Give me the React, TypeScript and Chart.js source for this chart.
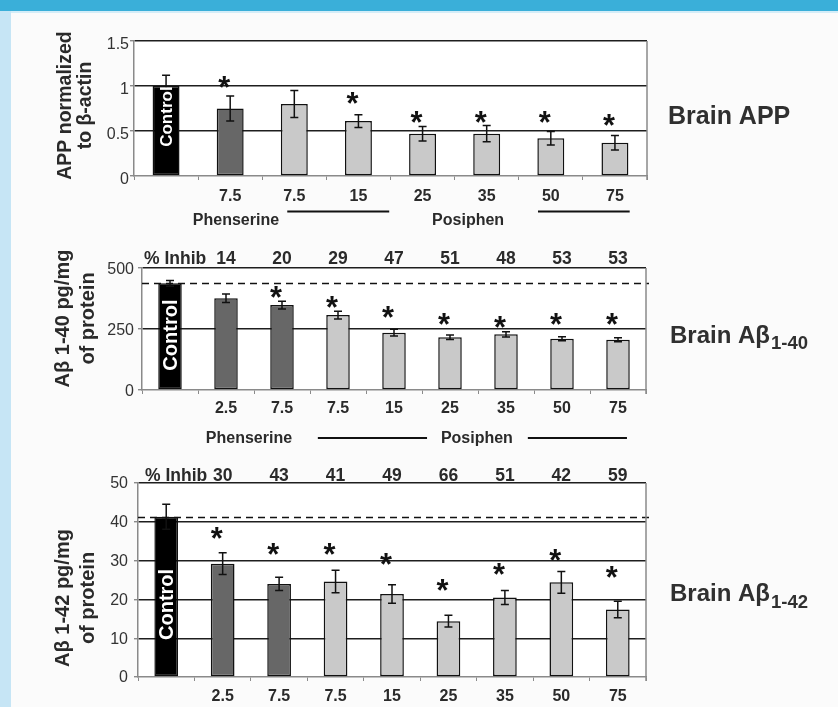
import React, { useEffect, useRef } from 'react';
import { Chart, registerables } from 'chart.js';

Chart.register(...registerables);

const FONT = '"Liberation Sans", Arial, Helvetica, sans-serif';
const TEXT = '#2a2a2a';

// ---------- Panel 1: Brain APP ----------
const appLabels = ['', '7.5', '7.5', '15', '25', '35', '50', '75'];
const appGroups = ['control', 'phenserine', 'posiphen', 'posiphen', 'posiphen', 'posiphen', 'posiphen', 'posiphen'];
const appValues = [1.0, 0.75, 0.8, 0.61, 0.47, 0.47, 0.42, 0.37];
const appErrors = [0.12, 0.14, 0.15, 0.07, 0.08, 0.09, 0.075, 0.08];
const appStars: (number | null)[] = [null, 1.04, null, 0.87, 0.66, 0.66, 0.66, 0.62];

// ---------- Panel 2: Brain Abeta 1-40 ----------
const ab40Labels = ['', '2.5', '7.5', '7.5', '15', '25', '35', '50', '75'];
const ab40Groups = ['control', 'phenserine', 'phenserine', 'posiphen', 'posiphen', 'posiphen', 'posiphen', 'posiphen', 'posiphen'];
const ab40Values = [437, 376, 348, 307, 235, 216, 228, 210, 206];
const ab40Errors = [12, 17, 16, 16, 14, 9, 11, 8, 8];
const ab40Stars: (number | null)[] = [null, null, 403, 362, 321, 291, 280, 291, 291];
const ab40Inhib = ['', '14', '20', '29', '47', '51', '48', '53', '53'];

// ---------- Panel 3: Brain Abeta 1-42 ----------
const ab42Labels = ['', '2.5', '7.5', '7.5', '15', '25', '35', '50', '75'];
const ab42Groups = ['control', 'phenserine', 'phenserine', 'posiphen', 'posiphen', 'posiphen', 'posiphen', 'posiphen', 'posiphen'];
const ab42Values = [41.3, 29.2, 24.0, 24.6, 21.4, 14.4, 20.5, 24.4, 17.4];
const ab42Errors = [3.2, 2.8, 1.7, 2.9, 2.4, 1.5, 1.8, 2.8, 2.1];
const ab42Stars: (number | null)[] = [null, 37.2, 32.9, 32.9, 30.5, 23.6, 27.9, 31.4, 27.0];
const ab42Inhib = ['', '30', '43', '41', '49', '66', '51', '42', '59'];

const COLORS: Record<string, string> = {
  control: '#000000',
  phenserine: '#676767',
  posiphen: '#c9c9c9',
};

type GroupItem = { kind: 'text'; text: string; at: number } | { kind: 'line'; from: number; to: number };

type Panel = {
  id: string;
  canvas: { x: number; y: number; w: number; h: number };
  area: { l: number; r: number; t: number; b: number };
  labels: string[];
  groups: string[];
  values: number[];
  errors: number[];
  stars: (number | null)[];
  yMax: number;
  yStep: number;
  yTickPad: number;
  yTickOffset: number;
  xTickPad: number;
  dashed: boolean;
  controlAt: number;
  controlFont: number;
  titleLines: string[];
  titleBaselines: number[];
  titleCenterY: number;
  titleFont: number;
  inhib?: string[];
  inhibBaseline?: number;
  inhibLabelX?: number;
  groupRow?: { baseline: number; lineY: number; items: GroupItem[] };
  right: { main: string; sub?: string; x: number; baseline: number; size: number; subSize?: number; subDrop?: number };
};

const panels: Panel[] = [
  {
    id: 'app',
    canvas: { x: 12, y: 12, w: 826, h: 218 },
    area: { l: 134, r: 647, t: 41, b: 176 },
    labels: appLabels,
    groups: appGroups,
    values: appValues,
    errors: appErrors,
    stars: appStars,
    yMax: 1.5,
    yStep: 0.5,
    yTickPad: 1,
    yTickOffset: 4,
    xTickPad: 7,
    dashed: false,
    controlAt: 0.66,
    controlFont: 17,
    titleLines: ['APP normalized', 'to β-actin'],
    titleBaselines: [70.5, 90.5],
    titleCenterY: 105.5,
    titleFont: 19.5,
    groupRow: {
      baseline: 225,
      lineY: 211.5,
      items: [
        { kind: 'text', text: 'Phenserine', at: 1.09 },
        { kind: 'line', from: 1.89, to: 3.48 },
        { kind: 'text', text: 'Posiphen', at: 4.71 },
        { kind: 'line', from: 5.8, to: 7.23 },
      ],
    },
    right: { main: 'Brain APP', x: 668, baseline: 124, size: 25 },
  },
  {
    id: 'ab40',
    canvas: { x: 12, y: 230, w: 826, h: 218 },
    area: { l: 142, r: 646, t: 268, b: 390 },
    labels: ab40Labels,
    groups: ab40Groups,
    values: ab40Values,
    errors: ab40Errors,
    stars: ab40Stars,
    yMax: 500,
    yStep: 250,
    yTickPad: 4,
    yTickOffset: 2,
    xTickPad: 4.5,
    dashed: true,
    controlAt: 225,
    controlFont: 20,
    titleLines: ['Aβ 1-40 pg/mg', 'of protein'],
    titleBaselines: [68.5, 93.5],
    titleCenterY: 318.5,
    titleFont: 20,
    inhib: ab40Inhib,
    inhibBaseline: 264,
    inhibLabelX: 144,
    groupRow: {
      baseline: 442.5,
      lineY: 438,
      items: [
        { kind: 'text', text: 'Phenserine', at: 1.41 },
        { kind: 'line', from: 2.64, to: 4.59 },
        { kind: 'text', text: 'Posiphen', at: 5.48 },
        { kind: 'line', from: 6.39, to: 8.16 },
      ],
    },
    right: { main: 'Brain Aβ', sub: '1-40', x: 670, baseline: 342.7, size: 24, subSize: 18.5, subDrop: 6 },
  },
  {
    id: 'ab42',
    canvas: { x: 12, y: 448, w: 826, h: 259 },
    area: { l: 138, r: 646, t: 483, b: 677 },
    labels: ab42Labels,
    groups: ab42Groups,
    values: ab42Values,
    errors: ab42Errors,
    stars: ab42Stars,
    yMax: 50,
    yStep: 10,
    yTickPad: 6,
    yTickOffset: 1,
    xTickPad: 6,
    dashed: true,
    controlAt: 18.7,
    controlFont: 20,
    titleLines: ['Aβ 1-42 pg/mg', 'of protein'],
    titleBaselines: [68.5, 93.5],
    titleCenterY: 598,
    titleFont: 20,
    inhib: ab42Inhib,
    inhibBaseline: 480.7,
    inhibLabelX: 145,
    right: { main: 'Brain Aβ', sub: '1-42', x: 670, baseline: 601, size: 24, subSize: 18.5, subDrop: 6.7 },
  },
];

function drawStar(ctx: CanvasRenderingContext2D, x: number, cy: number) {
  ctx.save();
  ctx.font = `bold 100px ${FONT}`;
  const m0 = ctx.measureText('*');
  const w0 = m0.actualBoundingBoxLeft + m0.actualBoundingBoxRight || 35;
  const size = (100 * 12) / w0;
  ctx.font = `bold ${size}px ${FONT}`;
  const m = ctx.measureText('*');
  ctx.textAlign = 'center';
  ctx.textBaseline = 'alphabetic';
  ctx.fillStyle = '#111';
  const bx = x - (m.actualBoundingBoxRight - m.actualBoundingBoxLeft) / 2;
  const by = cy + (m.actualBoundingBoxAscent - m.actualBoundingBoxDescent) / 2;
  ctx.fillText('*', bx, by);
  ctx.restore();
}

function PanelChart({ p }: { p: Panel }) {
  const ref = useRef<HTMLCanvasElement>(null);
  useEffect(() => {
    const canvas = ref.current;
    if (!canvas) return;
    const cx = p.canvas.x;
    const cy = p.canvas.y;

    const deco = {
      id: 'deco_' + p.id,
      beforeDraw(chart: any) {
        const { ctx, chartArea: a } = chart;
        ctx.save();
        ctx.fillStyle = '#ffffff';
        ctx.fillRect(a.left, a.top, a.right - a.left, a.bottom - a.top);
        ctx.restore();
      },
      afterDatasetsDraw(chart: any) {
        const { ctx, chartArea: a, scales } = chart;
        const xs = scales.x;
        const ys = scales.y;
        ctx.save();
        if (p.dashed) {
          const y = Math.round(ys.getPixelForValue(p.values[0])) + 0.5;
          ctx.setLineDash([7, 5]);
          ctx.lineWidth = 1.5;
          ctx.strokeStyle = '#111';
          ctx.beginPath();
          ctx.moveTo(a.left, y);
          ctx.lineTo(a.right + 3, y);
          ctx.stroke();
          ctx.setLineDash([]);
        }
        // error bars
        ctx.strokeStyle = '#111';
        ctx.lineWidth = 1.5;
        p.values.forEach((v, i) => {
          const x = xs.getPixelForValue(i);
          const y1 = ys.getPixelForValue(v + p.errors[i]);
          const y2 = ys.getPixelForValue(v - p.errors[i]);
          ctx.beginPath();
          ctx.moveTo(x, y1);
          ctx.lineTo(x, y2);
          ctx.moveTo(x - 4, y1);
          ctx.lineTo(x + 4, y1);
          ctx.moveTo(x - 4, y2);
          ctx.lineTo(x + 4, y2);
          ctx.stroke();
        });
        // significance stars
        p.stars.forEach((s, i) => {
          if (s === null || s === undefined) return;
          drawStar(ctx, xs.getPixelForValue(i), ys.getPixelForValue(s));
        });
        // Control label inside the black bar
        const x0 = xs.getPixelForValue(0);
        const yc = ys.getPixelForValue(p.controlAt);
        ctx.translate(x0, yc);
        ctx.rotate(-Math.PI / 2);
        ctx.font = `bold ${p.controlFont}px ${FONT}`;
        ctx.fillStyle = '#ffffff';
        ctx.textAlign = 'center';
        ctx.textBaseline = 'alphabetic';
        ctx.fillText('Control', 0, p.controlFont * 0.36);
        ctx.restore();
      },
      afterDraw(chart: any) {
        const { ctx, chartArea: a, scales } = chart;
        const xs = scales.x;
        const step = xs.getPixelForValue(1) - xs.getPixelForValue(0);
        const px = (i: number) => xs.getPixelForValue(0) + i * step;
        ctx.save();
        // right border of plot box
        ctx.strokeStyle = '#8a8a8a';
        ctx.lineWidth = 1.5;
        ctx.beginPath();
        ctx.moveTo(a.right, a.top);
        ctx.lineTo(a.right, a.bottom + 4);
        ctx.stroke();

        // y-axis title (two rotated lines)
        ctx.fillStyle = TEXT;
        ctx.font = `bold ${p.titleFont}px ${FONT}`;
        ctx.textAlign = 'center';
        ctx.textBaseline = 'alphabetic';
        p.titleLines.forEach((line, k) => {
          ctx.save();
          ctx.translate(p.titleBaselines[k] - cx, p.titleCenterY - cy);
          ctx.rotate(-Math.PI / 2);
          ctx.fillText(line, 0, 0);
          ctx.restore();
        });

        // % inhibition row
        if (p.inhib && p.inhibBaseline !== undefined) {
          ctx.font = `bold 17.5px ${FONT}`;
          ctx.textAlign = 'left';
          ctx.fillText('% Inhib', (p.inhibLabelX || 144) - cx, p.inhibBaseline - cy);
          ctx.textAlign = 'center';
          p.inhib.forEach((t, i) => {
            if (!t) return;
            ctx.fillText(t, xs.getPixelForValue(i), p.inhibBaseline! - cy);
          });
        }

        // drug group row
        if (p.groupRow) {
          const g = p.groupRow;
          ctx.font = `bold 16px ${FONT}`;
          ctx.textAlign = 'center';
          ctx.strokeStyle = '#111';
          ctx.lineWidth = 2;
          g.items.forEach((it) => {
            if (it.kind === 'text') {
              ctx.fillText(it.text, px(it.at), g.baseline - cy);
            } else {
              ctx.beginPath();
              ctx.moveTo(px(it.from), g.lineY - cy);
              ctx.lineTo(px(it.to), g.lineY - cy);
              ctx.stroke();
            }
          });
        }

        // right-hand label
        const r = p.right;
        ctx.textAlign = 'left';
        ctx.font = `bold ${r.size}px ${FONT}`;
        ctx.fillStyle = '#303030';
        ctx.fillText(r.main, r.x - cx, r.baseline - cy);
        if (r.sub) {
          const w = ctx.measureText(r.main).width;
          ctx.font = `bold ${r.subSize}px ${FONT}`;
          ctx.fillText(r.sub, r.x - cx + w + 1, r.baseline - cy + (r.subDrop || 6));
        }
        ctx.restore();
      },
    };

    const chart = new Chart(canvas, {
      type: 'bar',
      data: {
        labels: p.labels,
        datasets: [
          {
            data: p.values,
            backgroundColor: p.groups.map((g) => COLORS[g]),
            borderColor: '#111111',
            borderWidth: 1.5,
            borderSkipped: false,
            barPercentage: 0.42,
            categoryPercentage: 1,
          },
        ],
      },
      options: {
        responsive: false,
        maintainAspectRatio: false,
        animation: false,
        devicePixelRatio: 1,
        events: [],
        layout: {
          padding: { left: 0, top: p.area.t - cy, right: cx + p.canvas.w - p.area.r, bottom: 0 },
        },
        plugins: {
          legend: { display: false },
          tooltip: { enabled: false },
          title: { display: false },
        },
        scales: {
          x: {
            afterFit: (s: any) => {
              s.height = cy + p.canvas.h - p.area.b;
            },
            grid: {
              drawOnChartArea: false,
              drawTicks: true,
              tickLength: 4,
              color: '#8a8a8a',
              lineWidth: 1,
              offset: true,
            },
            border: { color: '#8a8a8a', width: 1.5 },
            ticks: {
              font: { family: FONT, size: 16, weight: 'bold' },
              color: TEXT,
              padding: p.xTickPad,
              maxRotation: 0,
              autoSkip: false,
            },
          },
          y: {
            min: 0,
            max: p.yMax,
            afterFit: (s: any) => {
              s.width = p.area.l - cx;
            },
            grid: {
              color: (c: any) => (c.tick && c.tick.value === 0 ? 'rgba(0,0,0,0)' : '#1e1e1e'),
              lineWidth: 1.4,
              drawTicks: true,
              tickLength: 4,
              tickColor: '#8a8a8a',
            },
            border: { color: '#8a8a8a', width: 1.5 },
            ticks: {
              stepSize: p.yStep,
              font: { family: FONT, size: 16 },
              color: '#333333',
              padding: p.yTickPad,
              labelOffset: p.yTickOffset,
              callback: (v: any) => String(Math.round(Number(v) * 100) / 100),
            },
          },
        },
      } as any,
      plugins: [deco],
    });
    return () => chart.destroy();
  }, [p]);

  return (
    <canvas
      ref={ref}
      width={p.canvas.w}
      height={p.canvas.h}
      style={{ position: 'absolute', left: p.canvas.x, top: p.canvas.y, width: p.canvas.w, height: p.canvas.h }}
    />
  );
}

export default function App() {
  return (
    <div
      style={{
        position: 'fixed',
        left: 0,
        top: 0,
        width: 838,
        height: 707,
        overflow: 'hidden',
        background: '#fbfbfb',
        fontFamily: FONT,
      }}
    >
      <div style={{ position: 'absolute', left: 0, top: 0, width: 838, height: 11, background: '#3aafd9' }} />
      <div style={{ position: 'absolute', left: 0, top: 11, width: 838, height: 2, background: '#d4edf8' }} />
      <div style={{ position: 'absolute', left: 0, top: 11, width: 11, height: 696, background: '#c6e5f5' }} />
      {panels.map((p) => (
        <PanelChart key={p.id} p={p} />
      ))}
    </div>
  );
}
